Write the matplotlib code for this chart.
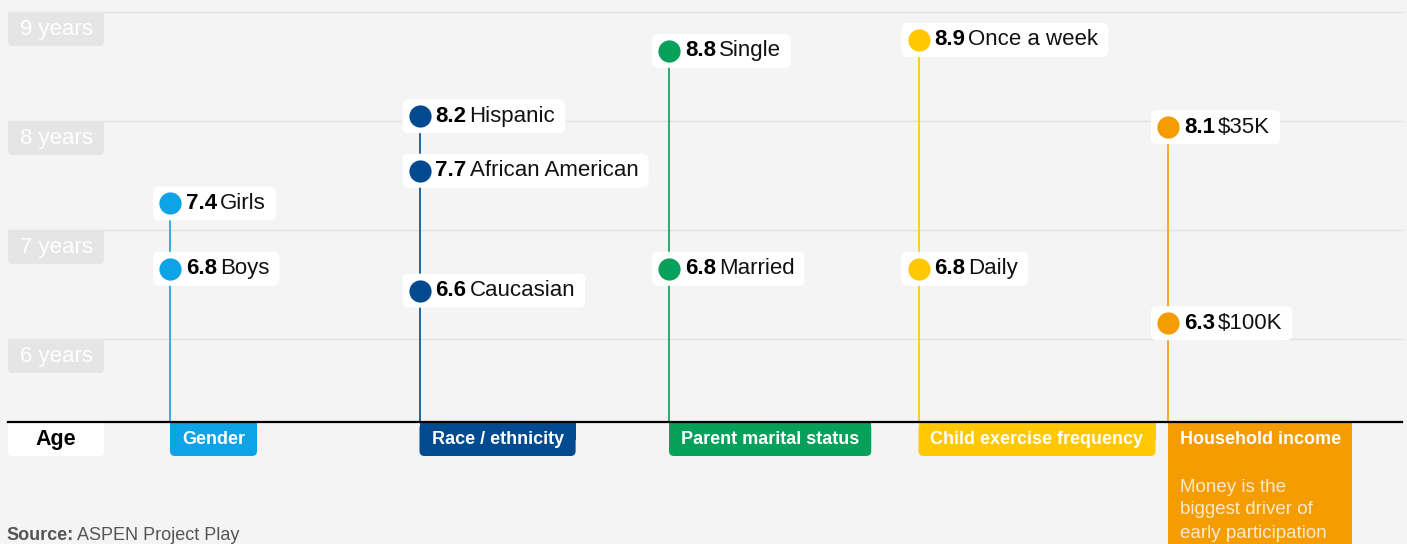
import matplotlib.pyplot as plt
from matplotlib.patches import FancyBboxPatch, Rectangle
from matplotlib.transforms import IdentityTransform

plt.rcParams['font.family'] = ['Liberation Sans', 'DejaVu Sans']

# data
groups = ["Gender", "Race / ethnicity", "Parent marital status",
          "Child exercise frequency", "Household income"]
group_colors = ["#0ea2e6", "#004b8f", "#05a05a", "#ffc800", "#f59c00"]
point_labels = [["Girls", "Boys"],
                ["Hispanic", "African American", "Caucasian"],
                ["Single", "Married"],
                ["Once a week", "Daily"],
                ["$35K", "$100K"]]
ages = [[7.4, 6.8],
        [8.2, 7.7, 6.6],
        [8.8, 6.8],
        [8.9, 6.8],
        [8.1, 6.3]]
year_ticks = [6, 7, 8, 9]
income_note = ["Money is the", "biggest driver of", "early participation"]

W, H = 1407, 544
fig = plt.figure(figsize=(W / 100, H / 100), dpi=100)
fig.patch.set_facecolor("#f4f4f4")
ax = fig.add_axes([0, 0, 1, 1])
ax.set_facecolor("#f4f4f4")
ax.axis("off")

# scale: group i at pixel 170 + 249.5*i, age v at pixel row 356 - (v-6)*109
ax.set_xlim(-170 / 249.5, (W - 170) / 249.5)
ax.set_ylim(6 - (H - 356) / 109, 6 + 356 / 109)
base_age = 6 - 66 / 109

ident = IdentityTransform()
renderer = fig.canvas.get_renderer()


def disp(x, v):
    return ax.transData.transform((x, v))


def box(x0, y0, x1, y1, color, r=5, z=3, flat_top=False):
    # display coords, y0 < y1
    p = FancyBboxPatch((x0, y0), x1 - x0, y1 - y0,
                       boxstyle="round,pad=0,rounding_size=%d" % r,
                       fc=color, ec="none", transform=ident, zorder=z)
    ax.add_patch(p)
    if flat_top:
        ax.add_patch(Rectangle((x0, (y0 + y1) / 2), x1 - x0, (y1 - y0) / 2,
                               fc=color, ec="none", transform=ident, zorder=z))


def width(t):
    return t.get_window_extent(renderer=renderer).width


# gridlines + year labels
for yr in year_ticks:
    _, cy = disp(0, yr)
    gy = cy + 17
    ax.plot([8, 1402], [gy, gy], color="#e2e2e2", lw=1, transform=ident, zorder=1)
    box(8, gy - 34, 104, gy, "#e5e5e5", r=5, z=1.5, flat_top=True)
    ax.text(56, cy, "%d years" % yr, color="white", fontsize=16,
            ha="center", va="center", transform=ident, zorder=2)

# baseline
_, by = disp(0, base_age)
ax.plot([8, 1402], [by, by], color="black", lw=1.6, transform=ident, zorder=6)

# stems, markers and labels
for i, (vals, labs, col) in enumerate(zip(ages, point_labels, group_colors)):
    ax.plot([i, i], [base_age, max(vals)], color=col, lw=1.2, zorder=2)
    ax.plot([i] * len(vals), vals, "o", color=col, ms=16, mec="none", zorder=4)
    for v, lab in zip(vals, labs):
        sx, sy = disp(i, v)
        t1 = ax.text(sx + 16, sy, "%.1f" % v, fontsize=16, fontweight="bold",
                     color="black", ha="left", va="center", transform=ident, zorder=5)
        w1 = width(t1)
        t2 = ax.text(sx + 16 + w1 + 3, sy, lab, fontsize=16, color="#111111",
                     ha="left", va="center", transform=ident, zorder=5)
        w2 = width(t2)
        box(sx - 17, sy - 17, sx + 16 + w1 + 3 + w2 + 10, sy + 17, "white", r=6)

    # category box under the baseline
    sx, _ = disp(i, 0)
    tc = ax.text(sx + 12, by - 17.5, groups[i], fontsize=13, fontweight="bold",
                 color="white", ha="left", va="center", transform=ident, zorder=5)
    wc = width(tc)
    if i == len(groups) - 1:
        ax.add_patch(Rectangle((sx, -5), 184, by - 1 + 5, fc=col, ec="none",
                               transform=ident, zorder=3))
        for k, line in enumerate(income_note):
            ax.text(sx + 12, H - 487 - 23 * k, line, fontsize=13.5, color="white",
                    alpha=0.8, ha="left", va="center", transform=ident, zorder=5)
    else:
        box(sx, by - 34, sx + wc + 24, by - 1, col, r=5, flat_top=True)

# Age label
box(8, by - 34, 104, by - 1, "white", r=5, flat_top=True)
ax.text(56, by - 17.5, "Age", fontsize=15.5, fontweight="bold", color="black",
        ha="center", va="center", transform=ident, zorder=5)

# source
s1 = ax.text(6, H - 535, "Source:", fontsize=13, fontweight="bold", color="#555555",
             ha="left", va="center", transform=ident, zorder=5)
ax.text(6 + width(s1) + 4, H - 535, "ASPEN Project Play", fontsize=13,
        color="#555555", ha="left", va="center", transform=ident, zorder=5)

fig.savefig("out.png", dpi=100, facecolor=fig.get_facecolor())
